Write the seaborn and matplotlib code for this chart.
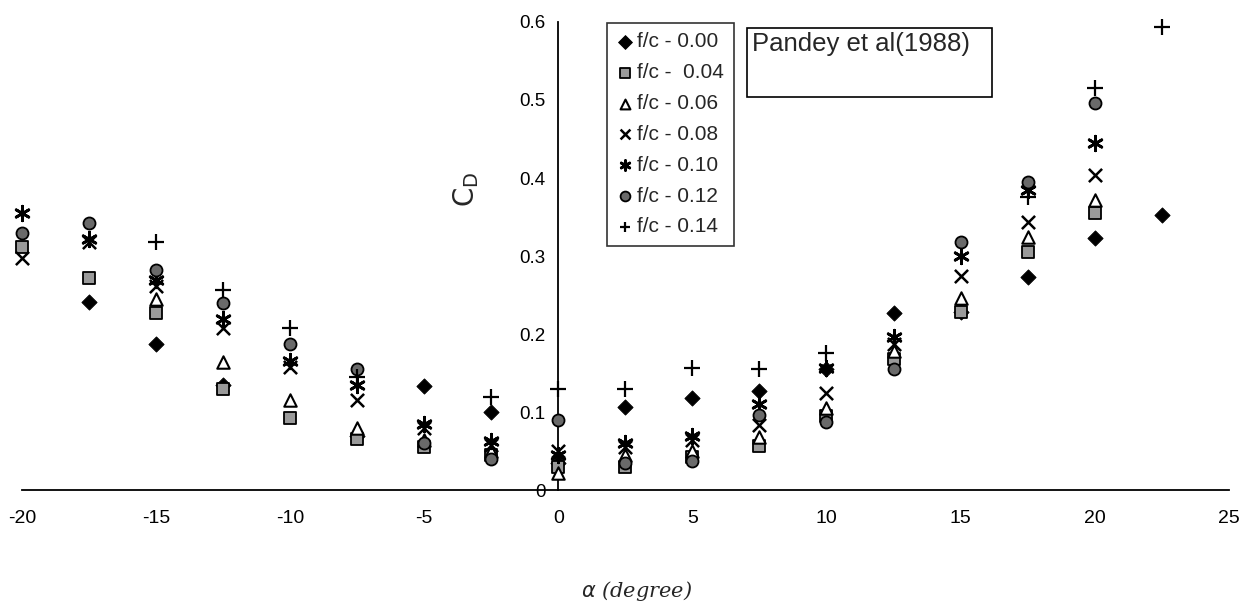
import numpy as np
import pandas as pd
import matplotlib
matplotlib.use('Agg')
import matplotlib.pyplot as plt
import seaborn as sns
from matplotlib.patches import Rectangle

sns.set_style('white')
plt.rcParams['font.family'] = ['Liberation Sans', 'DejaVu Sans']
plt.rcParams['axes.unicode_minus'] = False

nan = np.nan
alpha = [-20, -17.5, -15, -12.5, -10, -7.5, -5, -2.5, 0, 2.5, 5, 7.5, 10, 12.5, 15, 17.5, 20, 22.5]

fc_000 = [nan, 0.241, 0.188, 0.135, nan, 0.070, 0.133, 0.100, 0.035, 0.107, 0.118, 0.127, 0.155, 0.227, 0.228, 0.273, 0.323, 0.353]
fc_004 = [0.312, 0.272, 0.227, 0.130, 0.093, 0.066, 0.055, 0.045, 0.030, 0.030, 0.042, 0.057, 0.095, 0.168, 0.228, 0.305, 0.355, nan]
fc_006 = [nan, nan, 0.245, 0.164, 0.115, 0.080, 0.065, 0.050, 0.022, 0.045, 0.050, 0.068, 0.105, 0.178, 0.246, 0.325, 0.372, nan]
fc_008 = [0.297, 0.318, 0.262, 0.208, 0.158, 0.115, 0.080, 0.058, 0.050, 0.055, 0.064, 0.083, 0.125, 0.188, 0.275, 0.344, 0.404, nan]
fc_010 = [0.355, 0.322, 0.270, 0.220, 0.165, 0.135, 0.085, 0.063, 0.045, 0.060, 0.070, 0.110, 0.157, 0.196, 0.300, 0.385, 0.445, nan]
fc_012 = [0.330, 0.342, 0.282, 0.240, 0.188, 0.155, 0.060, 0.040, 0.090, 0.035, 0.037, 0.096, 0.088, 0.155, 0.318, 0.395, 0.496, nan]
fc_014 = [nan, nan, 0.318, 0.256, 0.208, 0.145, nan, 0.120, 0.130, 0.130, 0.157, 0.155, 0.176, nan, nan, 0.376, 0.515, 0.594]

labels = ['f/c - 0.00', 'f/c -  0.04', 'f/c - 0.06', 'f/c - 0.08', 'f/c - 0.10', 'f/c - 0.12', 'f/c - 0.14']
series = [fc_000, fc_004, fc_006, fc_008, fc_010, fc_012, fc_014]

x_ticks = [-20, -15, -10, -5, 0, 5, 10, 15, 20, 25]
y_ticks = [0, 0.1, 0.2, 0.3, 0.4, 0.5, 0.6]
y_tick_labels = ['0', '0.1', '0.2', '0.3', '0.4', '0.5', '0.6']

# marker styles per series
styles = [
    dict(marker='D', s=60, color='black', edgecolor='black'),
    dict(marker='s', s=70, color='#9a9a9a', edgecolor='black', linewidth=1.3),
    dict(marker='^', s=80, color='white', edgecolor='black', linewidth=1.5),
    dict(marker='x', s=90, color='black', linewidth=1.8),
    dict(marker=(6, 2, 0), s=110, color='black', linewidth=2.0),
    dict(marker='o', s=75, color='#6a6a6a', edgecolor='black', linewidth=1.3),
    dict(marker='+', s=130, color='black', linewidth=1.6),
]

fig = plt.figure(figsize=(12.44, 6.09), dpi=100)
ax = fig.add_axes([0.0177, 0.195, 0.970, 0.769])

for vals, lab, st in zip(series, labels, styles):
    df = pd.DataFrame({'alpha': alpha, 'cd': vals}).dropna()
    sns.scatterplot(data=df, x='alpha', y='cd', ax=ax, label=lab, clip_on=False, zorder=3, **st)

ax.set_xlim(-20, 25)
ax.set_ylim(0, 0.6)
ax.set_xticks(x_ticks)
ax.set_yticks(y_ticks)
ax.set_yticklabels(y_tick_labels)
ax.set_xlabel('')
ax.set_ylabel('')

ax.spines['left'].set_position(('data', 0))
ax.spines['top'].set_visible(False)
ax.spines['right'].set_visible(False)
for sp in ['left', 'bottom']:
    ax.spines[sp].set_color('black')
    ax.spines[sp].set_linewidth(1.3)
ax.tick_params(axis='x', direction='inout', length=10, width=1.2, pad=9, labelsize=14, colors='black')
ax.tick_params(axis='y', direction='inout', length=10, width=1.2, pad=4, labelsize=13.5, colors='black')
ax.patch.set_alpha(0)

leg = ax.legend(loc='upper left', bbox_to_anchor=(0.485, 0.998), frameon=True, fancybox=False,
                fontsize=15, labelspacing=0.57, handletextpad=0.2, handlelength=0.8,
                borderpad=0.45, borderaxespad=0)
leg.get_frame().set_edgecolor('black')
leg.get_frame().set_linewidth(1.2)
for h in leg.legend_handles:
    h.set_sizes([50])

# reference box
fig.patches.append(Rectangle((747 / 1244, 1 - 97 / 609), 245 / 1244, 69 / 609,
                             transform=fig.transFigure, fill=False, edgecolor='black', linewidth=1.2))
fig.text(752 / 1244, 1 - 32 / 609, 'Pandey et al(1988)', fontsize=18.5, va='top', ha='left')

ax.text(-3.45, 0.385, r'$\mathrm{C_D}$', rotation=90, fontsize=20, ha='center', va='center')
fig.text(0.512, 0.03, r'$\alpha$ (degree)', fontsize=15, ha='center', va='center',
         family=['DejaVu Serif'], style='italic')

fig.savefig('out.png', dpi=100)
